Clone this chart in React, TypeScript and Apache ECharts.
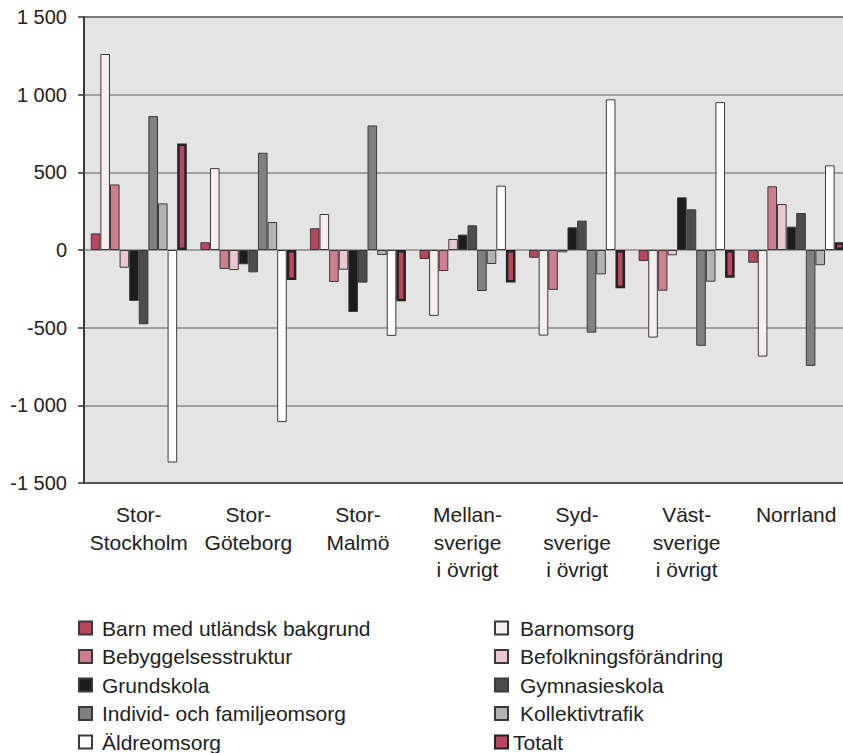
import React, { useEffect, useRef } from "react";
import * as echarts from "echarts";

const categories = [
  "Stor-\nStockholm",
  "Stor-\nGöteborg",
  "Stor-\nMalmö",
  "Mellan-\nsverige\ni övrigt",
  "Syd-\nsverige\ni övrigt",
  "Väst-\nsverige\ni övrigt",
  "Norrland",
];

const barnMedUtlandskBakgrund = [107, 50, 140, -58, -50, -71, -82];
const barnomsorg = [1262, 527, 232, -424, -551, -564, -686];
const bebyggelsesstruktur = [422, -122, -206, -135, -257, -262, 410];
const befolkningsforandring = [-114, -129, -127, 71, -15, -34, 296];
const grundskola = [-328, -92, -399, 99, 146, 339, 150];
const gymnasieskola = [-478, -144, -210, 159, 189, 262, 238];
const individOchFamiljeomsorg = [862, 626, 802, -264, -532, -617, -746];
const kollektivtrafik = [300, 180, -32, -90, -157, -204, -98];
const aldreomsorg = [-1368, -1108, -553, 414, 970, 952, 545];
const totalt = [686, -193, -330, -210, -247, -178, 50];

const seriesDefs = [
  { name: "Barn med utländsk bakgrund", data: barnMedUtlandskBakgrund, color: "#b9465f" },
  { name: "Barnomsorg", data: barnomsorg, color: "#f7eeee" },
  { name: "Bebyggelsesstruktur", data: bebyggelsesstruktur, color: "#cd7f8e" },
  { name: "Befolkningsförändring", data: befolkningsforandring, color: "#eac8d0" },
  { name: "Grundskola", data: grundskola, color: "#1c1c1c" },
  { name: "Gymnasieskola", data: gymnasieskola, color: "#4d4d4d" },
  { name: "Individ- och familjeomsorg", data: individOchFamiljeomsorg, color: "#808080" },
  { name: "Kollektivtrafik", data: kollektivtrafik, color: "#b3b3b3" },
  { name: "Äldreomsorg", data: aldreomsorg, color: "#ffffff" },
  { name: "Totalt", data: totalt, color: "#b9465f" },
];

const legendLeft = [
  "Barn med utländsk bakgrund",
  "Bebyggelsesstruktur",
  "Grundskola",
  "Individ- och familjeomsorg",
  "Äldreomsorg",
];
const legendRight = ["Barnomsorg", "Befolkningsförändring", "Gymnasieskola", "Kollektivtrafik"];
const legendTotal = ["Totalt"];

const FONT = "'Liberation Sans', Arial, sans-serif";

export default function App() {
  const ref = useRef<HTMLDivElement>(null);
  useEffect(() => {
    if (!ref.current) return;
    const chart = echarts.init(ref.current, null, { renderer: "svg" });
    const legendText = { color: "#222", fontSize: 21, fontFamily: FONT, lineHeight: 21 };
    chart.setOption({
      animation: false,
      backgroundColor: "#ffffff",
      grid: {
        left: 84,
        top: 17,
        width: 767,
        height: 466,
        show: true,
        backgroundColor: "#e4e4e4",
        borderColor: "#222",
        borderWidth: 1.5,
      },
      legend: [
        {
          data: legendLeft,
          orient: "vertical",
          left: 78,
          top: 617.5,
          padding: 0,
          itemGap: 7.5,
          itemWidth: 13,
          itemHeight: 13,
          icon: "rect",
          textStyle: { ...legendText, padding: [0, 0, 0, 5] },
        },
        {
          data: legendRight,
          orient: "vertical",
          left: 494,
          top: 617.5,
          padding: 0,
          itemGap: 7.5,
          itemWidth: 13,
          itemHeight: 13,
          icon: "rect",
          textStyle: { ...legendText, padding: [0, 0, 0, 7] },
        },
        {
          data: legendTotal,
          orient: "vertical",
          left: 494,
          top: 731.5,
          padding: 0,
          itemWidth: 13,
          itemHeight: 13,
          icon: "rect",
          textStyle: { ...legendText },
        },
      ],
      xAxis: {
        type: "category",
        data: categories,
        axisLine: { onZero: false, lineStyle: { color: "#555", width: 2 } },
        axisTick: { show: false },
        axisLabel: {
          color: "#222",
          fontSize: 21,
          fontFamily: FONT,
          lineHeight: 27.5,
          margin: 18,
          interval: 0,
        },
      },
      yAxis: {
        type: "value",
        min: -1500,
        max: 1500,
        interval: 500,
        axisLine: { show: true, lineStyle: { color: "#333", width: 1.5 } },
        axisTick: { show: true, inside: false, length: 6, lineStyle: { color: "#333", width: 1.5 } },
        splitLine: { show: true, lineStyle: { color: "#8a8a8a", width: 1.5 } },
        axisLabel: {
          color: "#222",
          fontSize: 20,
          fontFamily: FONT,
          margin: 17,
          formatter: (v: number) => {
            const s = Math.abs(v).toString();
            const f = s.length > 3 ? s.slice(0, s.length - 3) + " " + s.slice(s.length - 3) : s;
            return (v < 0 ? "-" : "") + f;
          },
        },
      },
      series: seriesDefs.map((d) => ({
        name: d.name,
        type: "bar",
        data: d.data,
        barWidth: 9.6,
        barGap: "0%",
        itemStyle: {
          color: d.color,
          borderColor: d.name === "Totalt" ? "#222" : "#3a3a3a",
          borderWidth: d.name === "Totalt" ? 2.5 : 1,
        },
      })),
    });
    return () => chart.dispose();
  }, []);
  return (
    <div style={{ position: "fixed", left: 0, top: 0, width: 843, height: 753, overflow: "hidden" }}>
      <div ref={ref} style={{ width: 870, height: 820 }} />
    </div>
  );
}
